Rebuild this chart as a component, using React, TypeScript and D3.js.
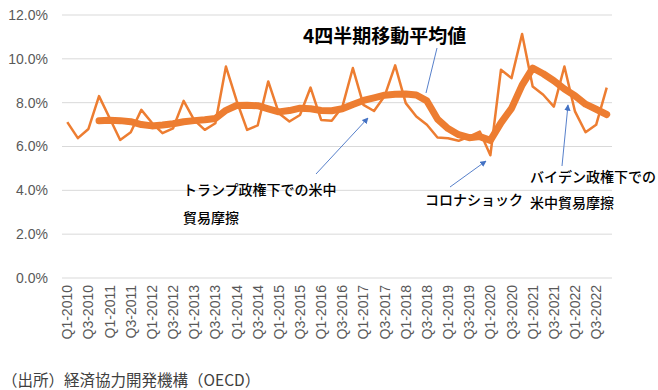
import React from 'react';
import * as d3 from 'd3';

// quarters shown on the x axis (Q1-2010 .. Q4-2022)
const years = d3.range(2010, 2023);
const quarters = years.flatMap(y => ['Q1', 'Q2', 'Q3', 'Q4'].map(q => `${q}-${y}`));

// quarterly rate (%)
const rate = [
  7.11, 6.38, 6.8, 8.3, 7.3, 6.3, 6.65, 7.67, 7.08, 6.61, 6.83, 8.08,
  7.2, 6.76, 7.06, 9.65, 8.1, 6.76, 6.96, 8.97, 7.52, 7.14, 7.44, 8.69,
  7.21, 7.17, 7.8, 9.58, 7.9, 7.62, 8.3, 9.7, 7.98, 7.37, 6.99, 6.41,
  6.38, 6.26, 6.45, 6.68, 5.6, 9.5, 9.12, 11.13, 8.74, 8.36, 7.82, 9.65,
  7.6, 6.65, 6.99, 8.69,
];

// 4-quarter moving average (%)
const movingAvg = [
  null, null, null, 7.17, 7.2, 7.18, 7.13, 7.0, 6.94, 6.98, 7.04, 7.13,
  7.18, 7.22, 7.28, 7.65, 7.87, 7.88, 7.86, 7.72, 7.58, 7.64, 7.75, 7.72,
  7.64, 7.63, 7.72, 7.92, 8.1, 8.22, 8.34, 8.38, 8.4, 8.35, 8.08, 7.25,
  6.82, 6.54, 6.4, 6.45, 6.28, 7.08, 7.74, 8.8, 9.58, 9.32, 9.0, 8.62,
  8.32, 7.93, 7.7, 7.46,
];

const yTicks = [0, 2, 4, 6, 8, 10, 12];

const W = 658;
const H = 390;
const orange = '#ED7D31';
const blue = '#4472C4';
const jp = '"Noto Sans CJK JP", "Noto Sans", sans-serif';

export default function App() {
  const x = d3.scaleBand<string>().domain(quarters).range([62, 612]).padding(0);
  const y = d3.scaleLinear().domain([0, 12]).range([278, 15]);
  const cx = (i: number) => (x(quarters[i]) ?? 0) + x.bandwidth() / 2;

  const line = d3.line<number>().x((d, i) => cx(i)).y(d => y(d));
  const maLine = d3
    .line<number | null>()
    .defined(d => d != null)
    .x((d, i) => cx(i))
    .y(d => y(d as number));

  const arrows = [
    { x1: 437, y1: 48, x2: 426, y2: 93, head: false },
    { x1: 316, y1: 174, x2: 368, y2: 118, head: true },
    { x1: 450, y1: 187, x2: 486, y2: 161, head: true },
    { x1: 562, y1: 166, x2: 568, y2: 105, head: true },
  ];

  return (
    <div style={{ position: 'absolute', left: 0, top: 0 }}>
      <svg width={W} height={H} style={{ display: 'block', background: '#fff' }}>
        <defs>
          <marker id="ah" viewBox="0 0 10 10" refX="9" refY="5" markerWidth="7" markerHeight="7" orient="auto">
            <path d="M0,0 L10,5 L0,10 z" fill={blue} />
          </marker>
        </defs>

        {yTicks.map(t => (
          <g key={t}>
            <line x1={62} x2={612} y1={y(t)} y2={y(t)} stroke="#d9d9d9" strokeWidth={1} />
            <text x={48} y={y(t)} dy="0.35em" textAnchor="end" fontSize={14}
              fontFamily='"Liberation Sans", Arial, sans-serif' fill="#595959">
              {t.toFixed(1)}%
            </text>
          </g>
        ))}

        {quarters.map((q, i) =>
          i % 2 === 0 ? (
            <text key={q} transform={`translate(${cx(i) + 5},285) rotate(-90)`} textAnchor="end"
              fontSize={14} fontFamily='"Liberation Sans", Arial, sans-serif' fill="#595959">
              {q}
            </text>
          ) : null
        )}

        <path d={maLine(movingAvg) ?? ''} fill="none" stroke={orange} strokeWidth={7}
          strokeLinejoin="round" strokeLinecap="round" />
        <path d={line(rate) ?? ''} fill="none" stroke={orange} strokeWidth={2.5} strokeLinejoin="round" />

        {arrows.map((a, i) => (
          <line key={i} x1={a.x1} y1={a.y1} x2={a.x2} y2={a.y2} stroke={blue} strokeWidth={0.9}
            markerEnd={a.head ? 'url(#ah)' : undefined} />
        ))}

        <text x={303} y={43} fontSize={19} fontWeight="bold" fontFamily={jp} fill="#000">4四半期移動平均値</text>

        <g fontFamily={jp} fontSize={14} fontWeight={500} fill="#000">
          <text x={183} y={195}>トランプ政権下での米中</text>
          <text x={183} y={223}>貿易摩擦</text>
          <text x={425} y={205}>コロナショック</text>
          <text x={530} y={182}>バイデン政権下での</text>
          <text x={530} y={208}>米中貿易摩擦</text>
        </g>

        <text x={2} y={386} fontSize={15.5} fontFamily={jp} fill="#404040">（出所）経済協力開発機構（OECD）</text>
      </svg>
    </div>
  );
}
